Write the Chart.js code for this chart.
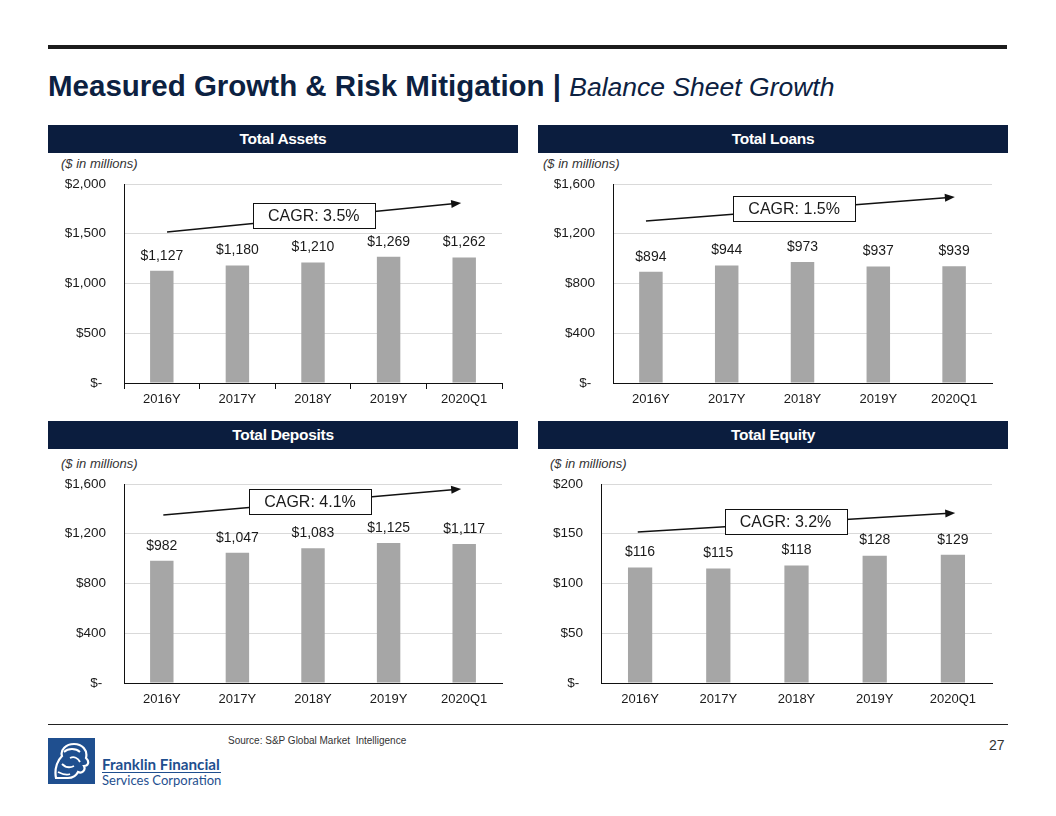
<!DOCTYPE html>
<html>
<head>
<meta charset="utf-8">
<script src="https://cdn.jsdelivr.net/npm/chart.js@4"></script>
<style>
  body { margin: 0; background: #fff; font-family: "Liberation Sans", Arial, sans-serif; }
  #page { position: relative; width: 1056px; height: 816px; overflow: hidden; }
  .abs { position: absolute; }
  .rule-top { left: 48px; top: 45px; width: 959px; height: 4px; background: #1c1c1c; }
  .rule-bottom { left: 48px; top: 724px; width: 960px; height: 1px; background: #222; }
  .title { left: 48px; top: 69px; white-space: nowrap; color: #0c2141; }
  .title b { font-size: 29.5px; font-weight: bold; }
  .title i { font-size: 26.5px; font-style: italic; }
  .hdr { height: 28px; width: 470px; background: #0b1d3e; color: #fff; font-weight: bold;
         font-size: 15.5px; line-height: 28px; text-align: center; letter-spacing: -0.3px; }
  .unit { font-size: 13px; font-style: italic; color: #333; }
  canvas { position: absolute; }
  .src { left: 228px; top: 735px; font-size: 10px; color: #333; }
  .pg { left: 989px; top: 737px; font-size: 14px; color: #333; }
  .logo-t1 { left: 102px; top: 755px; font-size: 15.2px; font-weight: bold; color: #1f4f8f;
             font-family: Lato, "Liberation Sans", sans-serif; }
  .logo-t2 { left: 102px; top: 772px; font-size: 13px; color: #1f4f8f;
             font-family: Lato, "Liberation Sans", sans-serif; }
  .logo-line { left: 102px; top: 772px; width: 119px; height: 1px; background: #1f4f8f; }
</style>
</head>
<body>
<div id="page">
  <div class="abs rule-top"></div>
  <div class="abs title"><b>Measured Growth &amp; Risk Mitigation | </b><i>Balance Sheet Growth</i></div>

  <div class="abs hdr" style="left:48px;top:125px;">Total Assets</div>
  <div class="abs hdr" style="left:538px;top:125px;">Total Loans</div>
  <div class="abs hdr" style="left:48px;top:421px;">Total Deposits</div>
  <div class="abs hdr" style="left:538px;top:421px;">Total Equity</div>

  <div class="abs unit" style="left:61px;top:156px;">($ in millions)</div>
  <div class="abs unit" style="left:543px;top:156px;">($ in millions)</div>
  <div class="abs unit" style="left:61px;top:456px;">($ in millions)</div>
  <div class="abs unit" style="left:550px;top:456px;">($ in millions)</div>

  <canvas id="c1" width="470" height="240" style="left:48px;top:170px;"></canvas>
  <canvas id="c2" width="470" height="240" style="left:538px;top:170px;"></canvas>
  <canvas id="c3" width="470" height="240" style="left:48px;top:470px;"></canvas>
  <canvas id="c4" width="470" height="240" style="left:538px;top:470px;"></canvas>

  <div class="abs rule-bottom"></div>
  <svg class="abs" style="left:48px;top:738px;" width="47" height="46" viewBox="0 0 47 46">
    <rect width="47" height="46" fill="#1f4f8f"/>
    <path d="M8 40 C6 30 10 22 14 18 C12 12 18 6 26 6 C34 6 40 12 38 20 C42 24 40 28 36 28 C38 32 34 36 30 34 C28 38 24 40 20 40 Z"
          fill="none" stroke="#fff" stroke-width="2.2"/>
    <path d="M16 14 C20 10 28 10 32 14 M22 20 C26 18 30 20 32 24 M14 26 C18 30 22 30 26 28 M10 34 C14 36 18 38 22 36"
          fill="none" stroke="#fff" stroke-width="1.8"/>
  </svg>
  <div class="abs logo-t1">Franklin Financial</div>
  <div class="abs logo-line"></div>
  <div class="abs logo-t2">Services Corporation</div>
  <div class="abs src">Source: S&amp;P Global Market &nbsp;Intelligence</div>
  <div class="abs pg">27</div>
</div>

<script>
const categories = ['2016Y', '2017Y', '2018Y', '2019Y', '2020Q1'];
const assets = [1127, 1180, 1210, 1269, 1262];
const loans = [894, 944, 973, 937, 939];
const deposits = [982, 1047, 1083, 1125, 1117];
const equity = [116, 115, 118, 128, 129];
const cagrLabels = ['CAGR: 3.5%', 'CAGR: 1.5%', 'CAGR: 4.1%', 'CAGR: 3.2%'];
const axisMax = [2000, 1600, 1600, 200];
const axisStep = [500, 400, 400, 50];

Chart.defaults.font.family = '"Liberation Sans", Arial, sans-serif';
Chart.defaults.color = '#1a1a1a';

function money(v) {
  return v === 0 ? '$- ' : '$' + v.toLocaleString('en-US');
}

// labels above bars + the CAGR arrow and box
const extras = {
  id: 'extras',
  afterDatasetsDraw(chart, args, opts) {
    const ctx = chart.ctx;
    const x = chart.scales.x, y = chart.scales.y;
    ctx.save();
    ctx.fillStyle = '#1a1a1a';
    ctx.font = '14px "Liberation Sans", Arial, sans-serif';
    ctx.textAlign = 'center';
    ctx.textBaseline = 'middle';
    chart.getDatasetMeta(0).data.forEach((bar, i) => {
      ctx.fillText(money(chart.data.datasets[0].data[i]), bar.x, bar.y - 15);
    });

    // arrow
    const x0 = x.getPixelForValue(opts.from[0]), y0 = y.getPixelForValue(opts.from[1]);
    const x1 = x.getPixelForValue(opts.to[0]), y1 = y.getPixelForValue(opts.to[1]);
    const ang = Math.atan2(y1 - y0, x1 - x0);
    ctx.strokeStyle = '#111';
    ctx.lineWidth = 1.5;
    ctx.beginPath();
    ctx.moveTo(x0, y0);
    ctx.lineTo(x1 - 6 * Math.cos(ang), y1 - 6 * Math.sin(ang));
    ctx.stroke();
    ctx.fillStyle = '#111';
    ctx.beginPath();
    ctx.moveTo(x1, y1);
    ctx.lineTo(x1 - 10 * Math.cos(ang) + 4 * Math.sin(ang), y1 - 10 * Math.sin(ang) - 4 * Math.cos(ang));
    ctx.lineTo(x1 - 10 * Math.cos(ang) - 4 * Math.sin(ang), y1 - 10 * Math.sin(ang) + 4 * Math.cos(ang));
    ctx.closePath();
    ctx.fill();

    // box
    const bx = x.getPixelForValue(opts.box[0]), by = y.getPixelForValue(opts.box[1]);
    ctx.fillStyle = '#fff';
    ctx.fillRect(Math.round(bx - 61) + 0.5, Math.round(by - 12.5) + 0.5, 122, 25);
    ctx.strokeStyle = '#111';
    ctx.lineWidth = 1;
    ctx.strokeRect(Math.round(bx - 61) + 0.5, Math.round(by - 12.5) + 0.5, 122, 25);
    ctx.fillStyle = '#1a1a1a';
    ctx.font = '16px "Liberation Sans", Arial, sans-serif';
    ctx.fillText(opts.label, bx, by + 1);
    ctx.restore();
  }
};

function makeChart(id, values, idx, yAxisWidth, xTicks, arrow) {
  return new Chart(document.getElementById(id), {
    type: 'bar',
    data: {
      labels: categories,
      datasets: [{
        data: values,
        backgroundColor: '#a6a6a6',
        barPercentage: 0.31,
        categoryPercentage: 1
      }]
    },
    options: {
      responsive: false,
      animation: false,
      layout: { padding: { left: 0, top: 14, right: 16, bottom: 0 } },
      plugins: {
        legend: { display: false },
        tooltip: { enabled: false },
        extras: Object.assign({ label: cagrLabels[idx] }, arrow)
      },
      scales: {
        x: {
          afterFit: s => { s.height = 27; },
          grid: { display: true, drawOnChartArea: false, drawTicks: xTicks, tickLength: 6, color: '#111', offset: true },
          border: { color: '#111', width: 1 },
          ticks: { font: { size: 13 }, padding: xTicks ? 3 : 9, color: '#1a1a1a' }
        },
        y: {
          min: 0,
          max: axisMax[idx],
          afterFit: s => { s.width = yAxisWidth; s.paddingTop = 0; s.paddingBottom = 0; },
          grid: { color: '#d9d9d9', drawTicks: false },
          border: { color: '#111', width: 1 },
          ticks: { stepSize: axisStep[idx], padding: 18, font: { size: 13.5 }, color: '#1a1a1a', callback: v => money(v) }
        }
      }
    },
    plugins: [extras]
  });
}

makeChart('c1', assets, 0, 76, true, { from: [0.07, 1518], to: [3.96, 1809], box: [2.01, 1683] });
makeChart('c2', loans, 1, 75, false, { from: [-0.065, 1302], to: [4.01, 1495], box: [1.89, 1403] });
makeChart('c3', deposits, 2, 76, false, { from: [0.02, 1351], to: [3.96, 1560], box: [1.96, 1459] });
makeChart('c4', equity, 3, 63, false, { from: [-0.03, 151.8], to: [4.03, 170.9], box: [1.86, 162.3] });
</script>
</body>
</html>
